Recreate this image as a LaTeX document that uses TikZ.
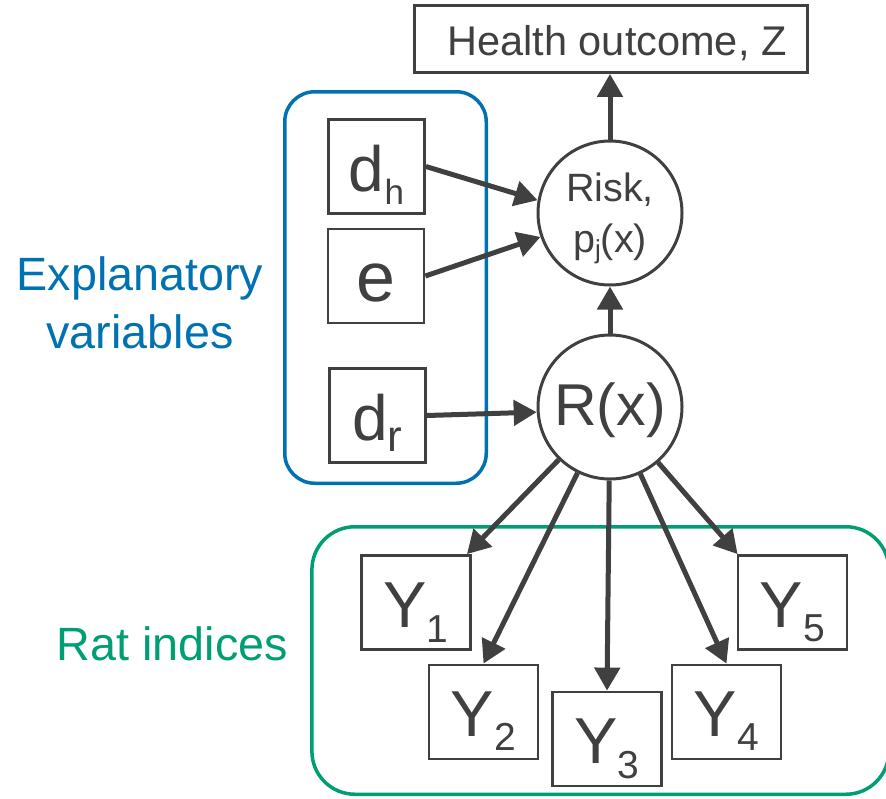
\documentclass[tikz,border=0pt]{standalone}
\usepackage{fontspec}
\setmainfont{Liberation Sans}
\usetikzlibrary{arrows.meta}
\definecolor{ink}{RGB}{64,64,64}
\definecolor{expblue}{RGB}{0,114,178}
\definecolor{ratgreen}{RGB}{0,158,115}
\newcommand{\lowsub}[3]{\raisebox{-#1}{\fontsize{#2}{#2}\selectfont #3}}
\begin{document}
\begin{tikzpicture}[x=1pt,y=-1pt,
  varbox/.style={draw=ink, line width=2.8pt, inner sep=0pt, minimum width=96pt, minimum height=94pt, text=ink, text depth=15pt, text height=65pt},
  ybox/.style={draw=ink, line width=2.8pt, inner sep=0pt, minimum width=109pt, minimum height=94pt, text=ink, text depth=15pt, text height=64pt, font=\fontsize{65}{65}\selectfont},
  varnode/.style={circle, draw=ink, line width=3pt, inner sep=0pt, minimum size=144pt, text=ink},
  grpbox/.style={rounded corners=#1, line width=3.5pt, inner sep=0pt},
  link/.style={draw=ink, line width=5pt, -{Triangle[length=23pt,width=25pt]}},
]
\useasboundingbox (0,0) rectangle (886,798);

% group frames
\node[grpbox=30pt, draw=expblue, minimum width=201.5pt, minimum height=391.5pt] (expgroup) at (385.5,287.5) {};
\node[grpbox=43pt, draw=ratgreen, minimum width=577pt, minimum height=267.5pt] (ratgroup) at (600.4,660.5) {};

% group labels
\node[text=expblue, font=\fontsize{46.7}{58}\selectfont, align=center, anchor=base] (explabel) at (140,348) {Explanatory\\variables};
\node[text=ratgreen, font=\fontsize{46.7}{56}\selectfont, anchor=base] (ratlabel) at (172.5,660) {Rat indices};

% outcome
\node[draw=ink, line width=2.8pt, inner sep=0pt, minimum width=393pt, minimum height=67pt, text=ink, font=\fontsize{41.5}{41.5}\selectfont, text height=32pt, text depth=0pt] (health) at (611,39) {\hspace{12pt}Health outcome, Z};

% circles
\node[varnode, font=\fontsize{39.5}{51}\selectfont, align=center, text height=91pt, text depth=13pt] (risk) at (610,213) {Risk,\\p\lowsub{6pt}{26}{j}(x)};
\node[varnode, font=\fontsize{59}{59}\selectfont, text height=48pt, text depth=12pt] (rx) at (610,407) {R(x)};

% explanatory variables
\node[varbox] (dh) at (376.5,166.5) {{\fontsize{64}{64}\selectfont d}\lowsub{13pt}{35}{h}};
\node[varbox, font=\fontsize{70}{70}\selectfont] (e) at (376,276) {e};
\node[varbox] (dr) at (377.5,415.5) {{\fontsize{64}{64}\selectfont d}\lowsub{11pt}{44}{r}};

% rat indices
\node[ybox] (y1) at (416,602.5) {Y\lowsub{15pt}{39}{1}};
\node[ybox] (y2) at (483.5,712) {Y\lowsub{14pt}{39}{2}};
\node[ybox] (y3) at (607,739) {Y\lowsub{15pt}{39}{3}};
\node[ybox] (y4) at (726.5,712) {Y\lowsub{14pt}{39}{4}};
\node[ybox] (y5) at (792.5,602.5) {Y\lowsub{14pt}{39}{5}};

% connectors
\draw[link] (risk.north) -- (risk.north |- health.south);
\draw[link] (rx.north) -- (risk.south);
\draw[link] (dh.east) -- (risk.170);
\draw[link] (e.east) -- (risk.199);
\draw[link] (dr.east) -- (rx.184);
\draw[link] (rx) -- ([xshift=-5pt]y1.north east);
\draw[link] (rx) -- (y2.north);
\draw[link] (rx) -- (y3.north);
\draw[link] (rx) -- (y4.north);
\draw[link] (rx) -- ([xshift=1pt]y5.north west);
\end{tikzpicture}
\end{document}
